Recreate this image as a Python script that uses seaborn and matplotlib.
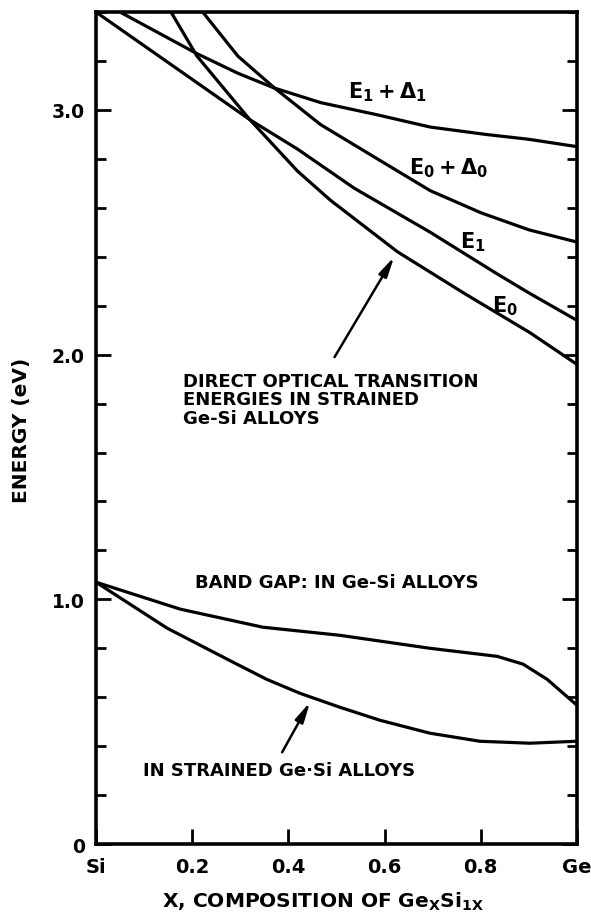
import matplotlib
matplotlib.use("Agg")
import matplotlib.pyplot as plt
import numpy as np
import pandas as pd
import seaborn as sns
from matplotlib.ticker import FixedLocator, MultipleLocator

# Ge fraction x and transition energies (eV) for strained Ge(x)Si(1-x)
x_e1_d1 = [0.05, 0.21, 0.295, 0.37, 0.467, 0.585, 0.695, 0.81, 0.90, 1.0]
e1_d1 = [3.40, 3.23, 3.15, 3.09, 3.03, 2.98, 2.93, 2.90, 2.88, 2.85]

x_e0_d0 = [0.222, 0.295, 0.371, 0.467, 0.585, 0.695, 0.80, 0.90, 1.0]
e0_d0 = [3.40, 3.22, 3.09, 2.94, 2.80, 2.67, 2.58, 2.51, 2.46]

x_e1 = [0.0, 0.32, 0.419, 0.537, 0.695, 0.834, 0.902, 1.0]
e1 = [3.40, 2.96, 2.84, 2.68, 2.50, 2.33, 2.25, 2.14]

x_e0 = [0.156, 0.21, 0.32, 0.419, 0.488, 0.627, 0.766, 0.902, 1.0]
e0 = [3.40, 3.22, 2.96, 2.75, 2.63, 2.42, 2.25, 2.09, 1.96]

# Band gaps: unstrained and strained alloys
x_gap = [0.0, 0.175, 0.347, 0.507, 0.694, 0.834, 0.888, 0.938, 1.0]
gap = [1.07, 0.96, 0.886, 0.853, 0.80, 0.767, 0.735, 0.673, 0.567]

x_gap_strained = [0.0, 0.148, 0.285, 0.355, 0.424, 0.507, 0.59, 0.694, 0.798, 0.902, 1.0]
gap_strained = [1.07, 0.882, 0.743, 0.673, 0.616, 0.559, 0.506, 0.453, 0.42, 0.412, 0.42]

x_ticks = [0.0, 0.2, 0.4, 0.6, 0.8, 1.0]
x_tick_labels = ["Si", "0.2", "0.4", "0.6", "0.8", "Ge"]
y_ticks = [0, 1, 2, 3]
y_tick_labels = ["0", "1.0", "2.0", "3.0"]

curves = {
    "E1+D1": (x_e1_d1, e1_d1),
    "E0+D0": (x_e0_d0, e0_d0),
    "E1": (x_e1, e1),
    "E0": (x_e0, e0),
    "gap": (x_gap, gap),
    "gap_strained": (x_gap_strained, gap_strained),
}
df = pd.concat(
    [pd.DataFrame({"x": xs, "energy": ys, "curve": name}) for name, (xs, ys) in curves.items()],
    ignore_index=True,
)

sns.set_theme(style="ticks")
plt.rcParams["font.family"] = ["DejaVu Sans"]
plt.rcParams["font.weight"] = "bold"
plt.rcParams["mathtext.fontset"] = "dejavusans"
plt.rcParams["mathtext.default"] = "bf"
plt.rcParams["text.color"] = "black"
plt.rcParams["axes.labelcolor"] = "black"
plt.rcParams["xtick.color"] = "black"
plt.rcParams["ytick.color"] = "black"

fig = plt.figure(figsize=(5.91, 9.20), dpi=100)
ax = fig.add_axes([0.1624, 0.0815, 0.8139, 0.9043])

sns.lineplot(
    data=df, x="x", y="energy", units="curve", estimator=None,
    color="black", linewidth=2.3, sort=False, ax=ax, legend=False,
)
for line in ax.get_lines():
    line.set_solid_capstyle("butt")
    line.set_solid_joinstyle("round")

ax.set_xlim(0, 1)
ax.set_ylim(0, 3.4)
ax.set_xlabel("")
ax.set_ylabel("")

for side in ["left", "right", "top", "bottom"]:
    ax.spines[side].set_linewidth(2.6)
    ax.spines[side].set_color("black")

ax.xaxis.set_major_locator(FixedLocator(x_ticks))
ax.set_xticklabels(x_tick_labels)
ax.yaxis.set_major_locator(FixedLocator(y_ticks))
ax.set_yticklabels(y_tick_labels)
ax.yaxis.set_minor_locator(MultipleLocator(0.2))

ax.tick_params(axis="x", which="major", direction="in", length=11, width=2,
               pad=9, labelsize=14, top=False, labelcolor="black")
ax.tick_params(axis="y", which="major", direction="in", length=11, width=2,
               pad=8, labelsize=13.5, right=True, labelcolor="black")
ax.tick_params(axis="y", which="minor", direction="in", length=7, width=2,
               right=True)
for lab in ax.get_xticklabels() + ax.get_yticklabels():
    lab.set_fontweight("bold")

# Curve labels
ax.text(0.523, 3.05, r"$E_1+\Delta_1$", fontsize=15, ha="left", va="baseline")
ax.text(0.651, 2.74, r"$E_0+\Delta_0$", fontsize=15, ha="left", va="baseline")
ax.text(0.757, 2.44, r"$E_1$", fontsize=15, ha="left", va="baseline")
ax.text(0.824, 2.175, r"$E_0$", fontsize=15, ha="left", va="baseline")

ax.text(0.18, 1.93, "DIRECT OPTICAL TRANSITION\nENERGIES IN STRAINED\nGe-Si ALLOYS",
        fontsize=13, fontweight="bold", ha="left", va="top", linespacing=1.05)
ax.text(0.206, 1.049, "BAND GAP: IN Ge-Si ALLOYS",
        fontsize=13, fontweight="bold", ha="left", va="baseline")
ax.text(0.098, 0.282, "IN STRAINED Ge\u00b7Si ALLOYS",
        fontsize=13, fontweight="bold", ha="left", va="baseline")

arrow = dict(arrowstyle="-|>,head_length=1.0,head_width=0.22", color="black",
             lw=1.8, shrinkA=0, shrinkB=0)
ax.annotate("", xy=(0.62, 2.40), xytext=(0.496, 1.99), arrowprops=arrow)
ax.annotate("", xy=(0.445, 0.58), xytext=(0.387, 0.375), arrowprops=arrow)

fig.text(22 / 591, 1 - 430 / 920, "ENERGY (eV)", rotation=90, fontsize=14.5,
         fontweight="bold", ha="center", va="center")
fig.text(323 / 591, 1 - 902 / 920, r"X, COMPOSITION OF Ge$_X$Si$_{1X}$",
         fontsize=14.5, fontweight="bold", ha="center", va="center")

fig.savefig("out.png", dpi=100, facecolor="white")
